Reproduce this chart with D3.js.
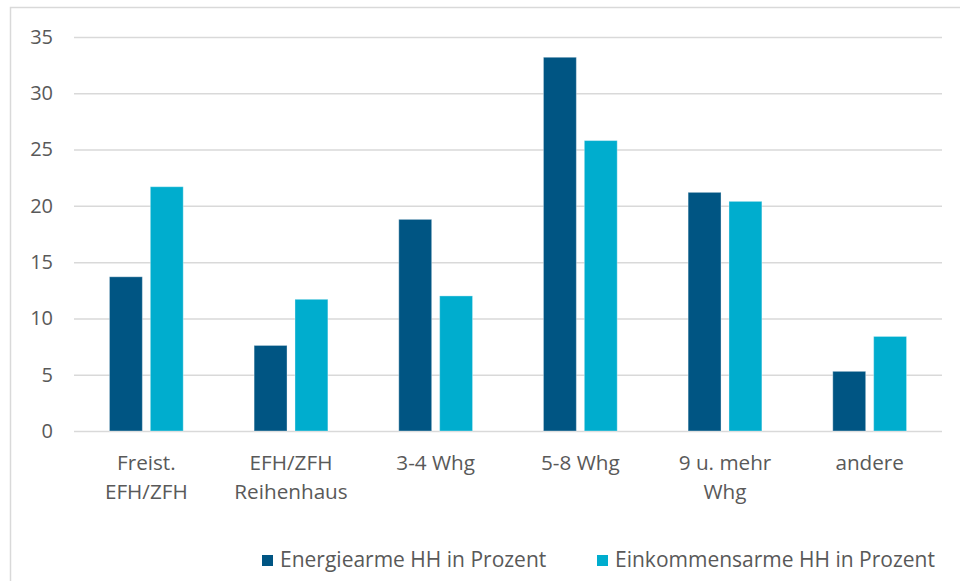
<!DOCTYPE html>
<html>
<head>
<meta charset="utf-8">
<script src="https://cdn.jsdelivr.net/npm/d3@7"></script>
<style>
  body { margin: 0; background: #fff; }
  svg text { font-family: "Open Sans", "Noto Sans", sans-serif; fill: #595959; }
</style>
</head>
<body>
<svg id="chart" width="960" height="581"></svg>
<script>
var categories = ['Freist.\nEFH/ZFH', 'EFH/ZFH\nReihenhaus', '3-4 Whg', '5-8 Whg', '9 u. mehr\nWhg', 'andere'];
var seriesNames = ['Energiearme HH in Prozent', 'Einkommensarme HH in Prozent'];
var energiearm = [13.7, 7.6, 18.8, 33.2, 21.2, 5.3];
var einkommensarm = [21.7, 11.7, 12.0, 25.8, 20.4, 8.4];
var yTicks = [0, 5, 10, 15, 20, 25, 30, 35];
var colors = ['#005583', '#00adce'];

var svg = d3.select('#chart');
var margin = {left: 74, right: 18, top: 37};
var width = 960 - margin.left - margin.right;
var height = 431 - margin.top;

// outer chart frame, runs off the picture on the right and bottom
svg.append('rect')
  .attr('x', 10.5).attr('y', 7.5)
  .attr('width', 970).attr('height', 600)
  .attr('fill', 'none')
  .attr('stroke', '#d9d9d9')
  .attr('stroke-width', 1.5);

var g = svg.append('g').attr('transform', 'translate(' + margin.left + ',' + margin.top + ')');

var y = d3.scaleLinear().domain([0, 35]).range([height, 0]);

var x0 = d3.scaleBand().domain(categories).range([0, width])
  .paddingInner(0.49).paddingOuter(0.245);
var x1 = d3.scaleBand().domain(seriesNames).range([0, x0.bandwidth()])
  .paddingInner(0.195);

// gridlines + y labels
var yAxis = d3.axisLeft(y).tickValues(yTicks).tickSize(-width).tickPadding(21);
var ya = g.append('g').call(yAxis);
ya.select('.domain').remove();
ya.selectAll('.tick line').attr('stroke', '#d9d9d9').attr('stroke-width', 1.5);
ya.selectAll('.tick text').attr('font-size', 20).attr('fill', '#595959');

var rows = categories.map(function (c, i) {
  return [
    {cat: c, series: seriesNames[0], value: energiearm[i]},
    {cat: c, series: seriesNames[1], value: einkommensarm[i]}
  ];
});

var groups = g.selectAll('.group').data(rows).enter().append('g')
  .attr('class', 'group')
  .attr('transform', function (d) { return 'translate(' + x0(d[0].cat) + ',0)'; });

groups.selectAll('rect').data(function (d) { return d; }).enter().append('rect')
  .attr('x', function (d) { return x1(d.series); })
  .attr('y', function (d) { return y(d.value); })
  .attr('width', x1.bandwidth())
  .attr('height', function (d) { return height - y(d.value); })
  .attr('fill', function (d, i) { return colors[i]; })
  .attr('stroke', 'rgba(255,255,255,0.35)')
  .attr('stroke-width', 1);

// category labels
var xAxis = d3.axisBottom(x0).tickSize(0).tickFormat('');
var xa = g.append('g').attr('transform', 'translate(0,' + height + ')').call(xAxis);
xa.select('.domain').remove();
xa.selectAll('.tick').each(function (d) {
  var lines = d.split('\n');
  var t = d3.select(this).append('text')
    .attr('text-anchor', 'middle')
    .attr('font-size', 20.7)
    .attr('fill', '#595959');
  lines.forEach(function (l, i) {
    t.append('tspan').attr('x', 0).attr('y', 39 + i * 29).text(l);
  });
});

// legend
var legendX = [262, 597];
var legend = svg.append('g').attr('class', 'legend');
seriesNames.forEach(function (name, i) {
  legend.append('rect')
    .attr('x', legendX[i]).attr('y', 555)
    .attr('width', 11).attr('height', 11)
    .attr('fill', colors[i]);
  legend.append('text')
    .attr('x', legendX[i] + 18).attr('y', 567)
    .attr('font-size', 21)
    .text(name);
});
</script>
</body>
</html>
